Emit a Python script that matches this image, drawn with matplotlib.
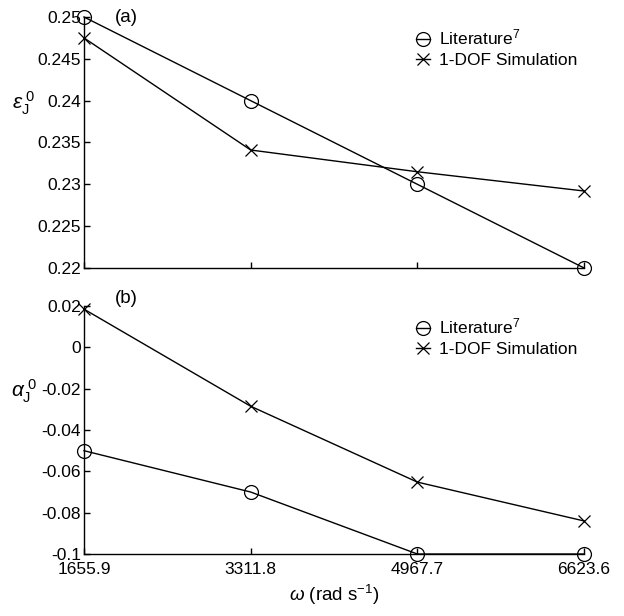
import matplotlib.pyplot as plt
import numpy as np

plt.rcParams['font.family'] = ['Liberation Sans', 'DejaVu Sans']
plt.rcParams['mathtext.fontset'] = 'custom'
plt.rcParams['mathtext.rm'] = 'Liberation Sans'
plt.rcParams['mathtext.it'] = 'Liberation Sans:italic'

omega = [1655.9, 3311.8, 4967.7, 6623.6]
omega_labels = ['1655.9', '3311.8', '4967.7', '6623.6']

eps_lit = [0.25, 0.24, 0.23, 0.22]
eps_sim = [0.2475, 0.2341, 0.2315, 0.2292]

alpha_lit = [-0.05, -0.07, -0.1, -0.1]
alpha_sim = [0.0185, -0.0285, -0.0652, -0.0840]

eps_ticks = [0.22, 0.225, 0.23, 0.235, 0.24, 0.245, 0.25]
eps_ticklabels = ['0.22', '0.225', '0.23', '0.235', '0.24', '0.245', '0.25']
alpha_ticks = [-0.1, -0.08, -0.06, -0.04, -0.02, 0, 0.02]
alpha_ticklabels = ['-0.1', '-0.08', '-0.06', '-0.04', '-0.02', '0', '0.02']

fs = 12.5

fig = plt.figure(figsize=(6.24, 6.16), dpi=100)
ax1 = fig.add_axes([0.1346, 0.565, 0.8014, 0.4074])
ax2 = fig.add_axes([0.1346, 0.1006, 0.8014, 0.4026])


def style(ax):
    for s in ['top', 'right']:
        ax.spines[s].set_visible(False)
    for s in ['left', 'bottom']:
        ax.spines[s].set_linewidth(1.0)
    ax.tick_params(direction='in', length=4, width=1, labelsize=fs, pad=2)
    ax.set_xlim(omega[0], omega[-1])
    ax.set_xticks(omega)


for ax, lit, sim in [(ax1, eps_lit, eps_sim), (ax2, alpha_lit, alpha_sim)]:
    ax.plot(omega, lit, '-', color='black', lw=1, marker='o', ms=10,
            mfc='none', mew=0.9, clip_on=False, label='Literature$^7$')
    ax.plot(omega, sim, '-', color='black', lw=1, marker='x', ms=8,
            mew=0.9, clip_on=False, label='1-DOF Simulation')
    style(ax)
    ax.legend(loc='upper right', bbox_to_anchor=(1.0, 0.985), frameon=False,
              handlelength=0.8, handletextpad=0.5, fontsize=fs,
              labelspacing=0.3, borderaxespad=0)

ax1.set_ylim(0.22, 0.25)
ax1.set_yticks(eps_ticks)
ax1.set_yticklabels(eps_ticklabels)
ax1.set_xticklabels([])
ax1.set_ylabel(r'$\epsilon_\mathrm{J}^{\;0}$', fontsize=15, rotation=0)
ax1.yaxis.set_label_coords(-0.12, 0.6)
ax1.text(0.062, 1.0, '(a)', transform=ax1.transAxes, fontsize=13.5, va='center')

ax2.set_ylim(-0.1, 0.02)
ax2.set_yticks(alpha_ticks)
ax2.set_yticklabels(alpha_ticklabels)
ax2.set_xticklabels(omega_labels)
ax2.tick_params(axis='x', pad=6)
ax2.set_ylabel(r'$\alpha_\mathrm{J}^{\;0}$', fontsize=15, rotation=0)
ax2.yaxis.set_label_coords(-0.12, 0.6)
ax2.text(0.062, 1.03, '(b)', transform=ax2.transAxes, fontsize=13.5, va='center')
ax2.set_xlabel(r'$\omega$ (rad s$^{-1}$)', fontsize=13.5, labelpad=4)

fig.savefig('out.png', dpi=100)
